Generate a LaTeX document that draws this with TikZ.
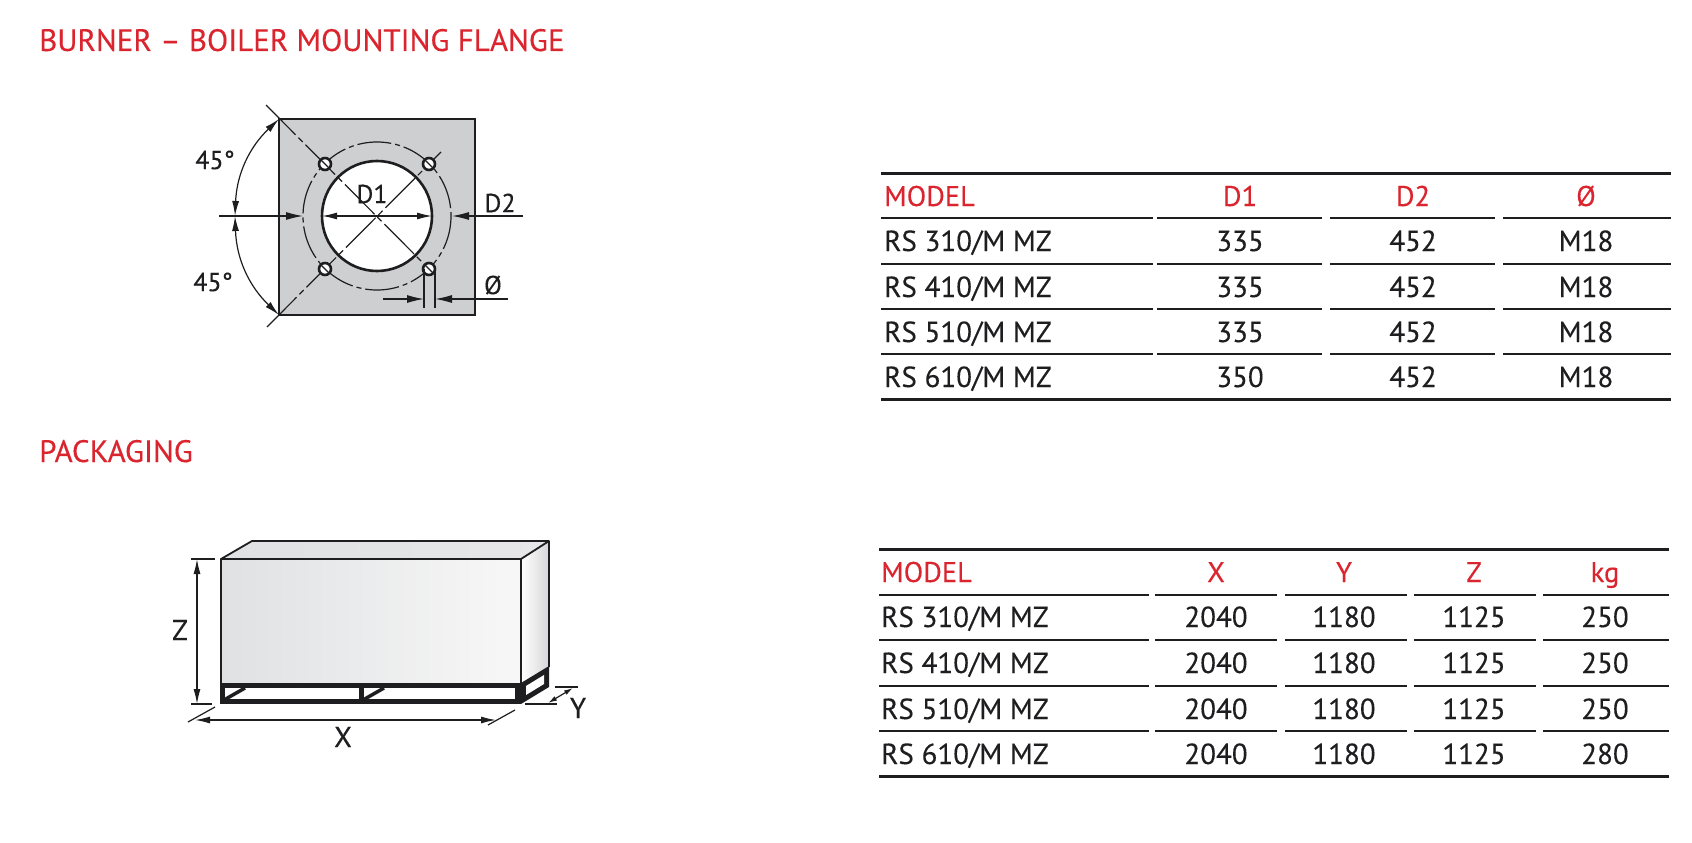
\documentclass[tikz,border=0pt]{standalone}
\usepackage{fontspec}
\setmainfont{PT Sans}[FakeBold=0.25]
\usetikzlibrary{arrows.meta, calc, positioning}
\definecolor{titlered}{RGB}{218,37,47}
\definecolor{inkblack}{RGB}{30,30,32}
\definecolor{plategray}{RGB}{206,207,209}
\definecolor{boxgray}{RGB}{224,225,227}
\tikzset{
    sectitle/.style={anchor=base west, inner sep=0pt, text=titlered, font=\fontsize{31}{36}\selectfont},
    headcell/.style={anchor=base, inner sep=0pt, text=titlered, font=\fontsize{28.5}{32}\selectfont},
    bodycell/.style={anchor=base, inner sep=0pt, text=inkblack, font=\fontsize{29}{32}\selectfont},
    dimlabel/.style={inner sep=0pt, text=inkblack, font=\fontsize{26}{30}\selectfont},
    packlabel/.style={inner sep=0pt, text=inkblack, font=\fontsize{29}{32}\selectfont},
    dimline/.style={line width=1.2pt, draw=inkblack},
    dimboth/.style={dimline, {Latex[length=15pt,width=7pt]}-{Latex[length=15pt,width=7pt]}},
    dimend/.style={dimline, -{Latex[length=17pt,width=8pt]}},
    thickrule/.style={line width=3pt, draw=inkblack},
    thinrule/.style={line width=1.5pt, draw=inkblack},
    axisline/.style={line width=1.2pt, draw=inkblack, dash pattern=on 42pt off 4pt on 6pt off 4pt},
}
\begin{document}
\begin{tikzpicture}[x=1pt, y=-1pt]
    \useasboundingbox (0, 0) rectangle (1692, 843);
    % titles
    \node[sectitle] (titleflange) at (39, 51) {BURNER – BOILER MOUNTING FLANGE};
    \node[sectitle] (titlepack) at (39, 462) {PACKAGING};

    % flange plate
    \coordinate (fc) at (377, 216);
    \coordinate (ptl) at (279, 119);
    \coordinate (pbl) at (279, 315);
    \draw[line width=2.6pt, draw=inkblack, fill=plategray] (ptl) rectangle (475, 315);
    \draw[line width=1.2pt, draw=inkblack, dash pattern=on 34pt off 4pt on 5pt off 4pt] (fc) circle[radius=74];
    \draw[line width=2.6pt, draw=inkblack, fill=white] (fc) circle[radius=55];
    \draw[axisline] (266, 105) -- (429, 269);
    \draw[axisline] (267, 327) -- (441, 152);
    \foreach \hx/\hy [count=\i] in {325/164, 429/164, 325/269, 429/269} {
        \node[circle, draw=inkblack, line width=2.6pt, fill=white, minimum size=12pt, inner sep=0pt] (hole\i) at (\hx, \hy) {};
        \draw[line width=1.2pt, draw=inkblack] ($(hole\i) + (-4, -4)$) -- ($(hole\i) + (4, 4)$);
    }
    % flange dimensions
    \coordinate (arcmid) at (235, 216);
    \draw[dimboth] (arcmid) to[bend left=22] (ptl);
    \draw[dimboth] (arcmid) to[bend right=22] (pbl);
    \draw[dimline] (arcmid) ++(-16, 0) coordinate (dleft) -- (arcmid);
    \draw[dimend] (arcmid) -- (303, 216);
    \draw[dimboth] (322, 216) -- (432, 216);
    \draw[dimend] (523, 216) -- (452, 216);
    \draw[dimline] (424, 269) -- (424, 308);
    \draw[dimline] (435, 269) -- (435, 308);
    \draw[dimend] (383, 299) -- (424, 299);
    \draw[dimend] (508, 299) -- (435, 299);
    \node[dimlabel] (angtop) at (215, 160) {45°};
    \node[dimlabel] (angbot) at (213, 282) {45°};
    \node[dimlabel] (dia1) at (372, 194) {D1};
    \node[dimlabel] (dia2) at (500, 203) {D2};
    \node[dimlabel] (diah) at (493, 285) {Ø};

    % packaging box
    \shade[left color=boxgray, right color=white!97!black] (221, 559) rectangle (521, 683);
    \shade[left color=boxgray, right color=boxgray!80] (221, 559) -- (252, 541) -- (549, 541) -- (521, 559) -- cycle;
    \shade[left color=white, right color=plategray!85] (521, 559) -- (549, 541) -- (549, 667) -- (521, 683) -- cycle;
    \draw[line width=1.8pt, draw=inkblack, line join=round] (221, 683) -- (221, 559) -- (521, 559) -- (521, 683);
    \draw[line width=1.8pt, draw=inkblack, line join=round] (221, 559) -- (252, 541) -- (549, 541) -- (549, 667);
    \draw[line width=1.8pt, draw=inkblack] (521, 559) -- (549, 541);
    % pallet
    \fill[inkblack] (220, 683) rectangle (521, 704);
    \fill[inkblack] (521, 683) -- (549, 666) -- (549, 687) -- (521, 704) -- cycle;
    \fill[white] (225, 688) rectangle (359, 699);
    \fill[white] (364, 688) rectangle (515, 699);
    \fill[white] (526, 686) -- (544, 675) -- (544, 684) -- (526, 695) -- cycle;
    \draw[line width=3.5pt, draw=inkblack] (224, 700) -- (245, 688);
    \draw[line width=3.5pt, draw=inkblack] (363, 700) -- (384, 688);
    % packaging dimensions
    \draw[dimline] (191, 559) -- (215, 559);
    \draw[dimline] (191, 704) -- (212, 704);
    \draw[dimboth] (197, 559) -- (197, 704);
    \draw[dimline] (188, 722) -- (215, 707);
    \draw[dimline] (488, 725) -- (515, 710);
    \draw[dimboth] (195, 720) -- (496, 720);
    \draw[dimline] (555, 687) -- (578, 687);
    \draw[dimline] (525, 704) -- (557, 704);
    \draw[dimline, {Latex[length=9pt,width=5pt]}-{Latex[length=9pt,width=5pt]}] (548, 703) -- (573, 688);
    \node[packlabel] (lenz) at (180, 630) {Z};
    \node[packlabel] (lenx) at (343, 737) {X};
    \node[packlabel] (leny) at (578, 708) {Y};

    % flange table
    \draw[thickrule] (881, 173) -- (1671, 173);
    \draw[thickrule] (881, 399) -- (1671, 399);
    \foreach \ry in {218, 264, 309, 354} {
        \foreach \xa/\xb in {881/1153, 1157/1322, 1330/1495, 1503/1671} {
            \draw[thinrule] (\xa, \ry) -- (\xb, \ry);
        }
    }
    \node[headcell, anchor=base west] (fmodel) at (884, 206) {MODEL};
    \node[headcell] (fd1) at (1240, 206) {D1};
    \node[headcell] (fd2) at (1413, 206) {D2};
    \node[headcell] (fhole) at (1586, 206) {Ø};
    \foreach \ry/\mnum/\dval in {251/310/335, 297/410/335, 342/510/335, 387/610/350} {
        \node[bodycell, anchor=base west] (fm\mnum) at (884, \ry) {RS \mnum/M MZ};
        \node[bodycell] (fa\mnum) at (1240, \ry) {\dval};
        \node[bodycell] (fb\mnum) at (1413, \ry) {452};
        \node[bodycell] (fc\mnum) at (1586, \ry) {M18};
    }

    % packaging table
    \draw[thickrule] (879, 549) -- (1669, 549);
    \draw[thickrule] (879, 776) -- (1669, 776);
    \foreach \ry in {595, 640, 686, 731} {
        \foreach \xa/\xb in {879/1149, 1155/1277, 1285/1407, 1414/1536, 1543/1669} {
            \draw[thinrule] (\xa, \ry) -- (\xb, \ry);
        }
    }
    \node[headcell, anchor=base west] (pmodel) at (881, 582) {MODEL};
    \node[headcell] (px) at (1216, 582) {X};
    \node[headcell] (py) at (1344, 582) {Y};
    \node[headcell] (pz) at (1474, 582) {Z};
    \node[headcell] (pkg) at (1605, 582) {kg};
    \foreach \ry/\mnum/\kval in {627/310/250, 673/410/250, 719/510/250, 764/610/280} {
        \node[bodycell, anchor=base west] (pm\mnum) at (881, \ry) {RS \mnum/M MZ};
        \node[bodycell] (px\mnum) at (1216, \ry) {2040};
        \node[bodycell] (py\mnum) at (1344, \ry) {1180};
        \node[bodycell] (pz\mnum) at (1474, \ry) {1125};
        \node[bodycell] (pk\mnum) at (1605, \ry) {\kval};
    }
\end{tikzpicture}
\end{document}
